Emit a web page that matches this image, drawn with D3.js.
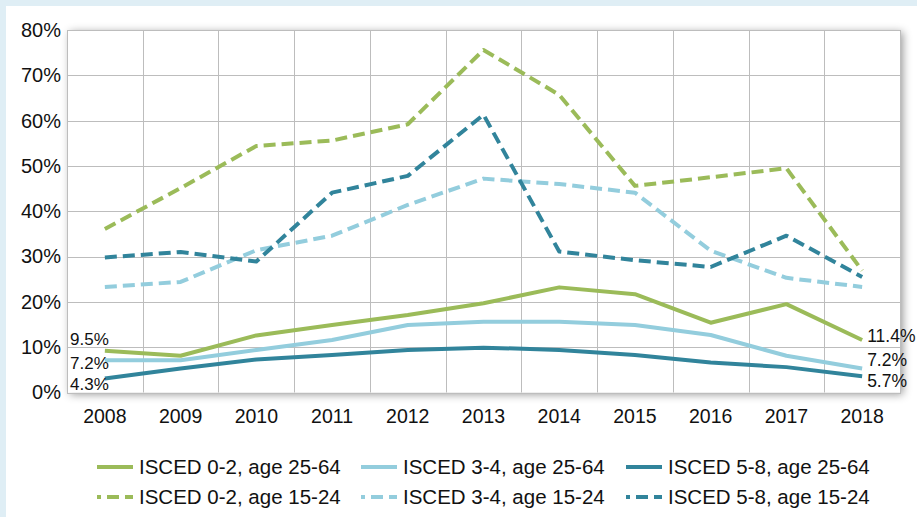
<!DOCTYPE html>
<html>
<head>
<meta charset="utf-8">
<script src="https://cdn.jsdelivr.net/npm/d3@7"></script>
<style>
  body { margin: 0; background: #dfeef5; }
  svg { display: block; }
  text { font-family: "Liberation Sans", Arial, sans-serif; fill: #111; }
</style>
</head>
<body>
<svg id="svgHolder"></svg>
<script>
let years = [2008, 2009, 2010, 2011, 2012, 2013, 2014, 2015, 2016, 2017, 2018];
let yTicks = [0, 10, 20, 30, 40, 50, 60, 70, 80];

// age 25-64
let isced02Adult = [9.2, 8.1, 12.6, 14.9, 17.1, 19.7, 23.2, 21.7, 15.4, 19.5, 11.6];
let isced34Adult = [7.1, 7.1, 9.4, 11.6, 14.9, 15.6, 15.6, 14.9, 12.7, 8.1, 5.3];
let isced58Adult = [3.1, 5.3, 7.3, 8.3, 9.4, 9.9, 9.4, 8.3, 6.6, 5.6, 3.6];
// age 15-24
let isced02Young = [36.1, 45.1, 54.4, 55.6, 59.2, 75.6, 65.7, 45.6, 47.5, 49.5, 26.9];
let isced34Young = [23.3, 24.4, 31.4, 34.6, 41.4, 47.2, 46.0, 44.1, 31.3, 25.3, 23.3];
let isced58Young = [29.8, 31.0, 28.9, 44.1, 47.8, 61.3, 31.1, 29.2, 27.7, 34.6, 25.5];

let seriesNames = [
  'ISCED 0-2, age 25-64', 'ISCED 3-4, age 25-64', 'ISCED 5-8, age 25-64',
  'ISCED 0-2, age 15-24', 'ISCED 3-4, age 15-24', 'ISCED 5-8, age 15-24'
];
let startLabels = ['9.5%', '7.2%', '4.3%'];
let endLabels = ['11.4%', '7.2%', '5.7%'];

let width = 917;
let height = 517;
let plot = { left: 67, right: 900, top: 30, bottom: 392.5 };

let colors = ['#9bbb59', '#93cddd', '#31849b'];

let series = [
  { name: seriesNames[0], values: isced02Adult, color: colors[0], dashed: false },
  { name: seriesNames[1], values: isced34Adult, color: colors[1], dashed: false },
  { name: seriesNames[2], values: isced58Adult, color: colors[2], dashed: false },
  { name: seriesNames[3], values: isced02Young, color: colors[0], dashed: true },
  { name: seriesNames[4], values: isced34Young, color: colors[1], dashed: true },
  { name: seriesNames[5], values: isced58Young, color: colors[2], dashed: true }
];

let svg = d3.select('#svgHolder')
    .attr('width', width)
    .attr('height', height);

// white panel
svg.append('rect')
    .attr('x', 6).attr('y', 6)
    .attr('width', width - 6).attr('height', height - 6)
    .attr('fill', '#fff');

let defs = svg.append('defs');
defs.append('filter')
    .attr('id', 'shadow')
    .attr('x', '-5%').attr('y', '-10%')
    .attr('width', '112%').attr('height', '125%')
    .append('feDropShadow')
    .attr('dx', 3).attr('dy', 2)
    .attr('stdDeviation', 4)
    .attr('flood-color', '#000')
    .attr('flood-opacity', 0.4);

let xScale = d3.scaleBand()
    .domain(years)
    .range([plot.left, plot.right])
    .padding(0);

let yScale = d3.scaleLinear()
    .domain([0, 80])
    .range([plot.bottom, plot.top]);

let cx = (year) => xScale(year) + xScale.bandwidth() / 2;

// plot area with shadow
svg.append('rect')
    .attr('x', plot.left).attr('y', plot.top)
    .attr('width', plot.right - plot.left)
    .attr('height', plot.bottom - plot.top)
    .attr('fill', '#fff')
    .attr('filter', 'url(#shadow)');

// gridlines
let grid = svg.append('g').attr('stroke', '#bdbdbd').attr('stroke-width', 1);
grid.selectAll('line.h')
    .data(yTicks)
    .enter()
    .append('line')
    .attr('x1', plot.left).attr('x2', plot.right)
    .attr('y1', (d) => Math.round(yScale(d)) + 0.5)
    .attr('y2', (d) => Math.round(yScale(d)) + 0.5);
grid.selectAll('line.v')
    .data(years.slice(1))
    .enter()
    .append('line')
    .attr('x1', (d) => Math.round(xScale(d)) + 0.5)
    .attr('x2', (d) => Math.round(xScale(d)) + 0.5)
    .attr('y1', plot.top).attr('y2', plot.bottom);
svg.append('rect')
    .attr('x', plot.left + 0.5).attr('y', Math.round(plot.top) + 0.5)
    .attr('width', plot.right - plot.left)
    .attr('height', Math.round(plot.bottom) - Math.round(plot.top))
    .attr('fill', 'none')
    .attr('stroke', '#bdbdbd');

// axes
let yAxis = d3.axisLeft(yScale)
    .tickValues(yTicks)
    .tickSize(0)
    .tickPadding(6)
    .tickFormat((d) => d + '%');
svg.append('g')
    .attr('id', 'y-axis')
    .attr('transform', 'translate(' + plot.left + ', 0)')
    .call(yAxis)
    .call((g) => g.select('.domain').remove())
    .selectAll('text')
    .style('font-size', '20px')
    .attr('fill', '#111');

let xAxis = d3.axisBottom(xScale)
    .tickSize(0)
    .tickPadding(17)
    .tickFormat(d3.format('d'));
svg.append('g')
    .attr('id', 'x-axis')
    .attr('transform', 'translate(0, ' + plot.bottom + ')')
    .call(xAxis)
    .call((g) => g.select('.domain').remove())
    .selectAll('text')
    .style('font-size', '19.5px')
    .attr('fill', '#111');

// lines
let line = d3.line()
    .x((d, i) => cx(years[i]))
    .y((d) => yScale(d));

let drawOrder = [3, 4, 5, 0, 1, 2];
svg.append('g')
    .selectAll('path')
    .data(drawOrder.map((i) => series[i]))
    .enter()
    .append('path')
    .attr('d', (s) => line(s.values))
    .attr('fill', 'none')
    .attr('stroke', (s) => s.color)
    .attr('stroke-width', 4)
    .attr('stroke-linejoin', 'round')
    .attr('stroke-dasharray', (s) => s.dashed ? '12,6' : null);

// data labels at start and end of the 25-64 lines
let startDy = [-6, 9, 12];
let endDy = [2, -2, 11];
svg.append('g')
    .selectAll('text')
    .data(startLabels)
    .enter()
    .append('text')
    .attr('x', cx(years[0]) + 4)
    .attr('y', (d, i) => yScale(series[i].values[0]) + startDy[i])
    .attr('text-anchor', 'end')
    .style('font-size', '17px')
    .text((d) => d);
svg.append('g')
    .selectAll('text')
    .data(endLabels)
    .enter()
    .append('text')
    .attr('x', cx(years[years.length - 1]) + 5)
    .attr('y', (d, i) => yScale(series[i].values[years.length - 1]) + endDy[i])
    .style('font-size', '17.5px')
    .text((d) => d);

// legend
let legendX = [97, 361, 626];
let legendY = [467, 497];
let legend = svg.append('g')
    .selectAll('g')
    .data(series)
    .enter()
    .append('g')
    .attr('transform', (s, i) => 'translate(' + legendX[i % 3] + ',' + legendY[Math.floor(i / 3)] + ')');
legend.append('line')
    .attr('x1', 0).attr('x2', 36)
    .attr('y1', 0).attr('y2', 0)
    .attr('stroke', (s) => s.color)
    .attr('stroke-width', 4)
    .attr('stroke-dasharray', (s) => s.dashed ? '4,6,12,6,12' : null);
legend.append('text')
    .attr('x', 42)
    .attr('y', 0)
    .attr('dy', '0.35em')
    .style('font-size', '20.5px')
    .text((s) => s.name);
</script>
</body>
</html>
